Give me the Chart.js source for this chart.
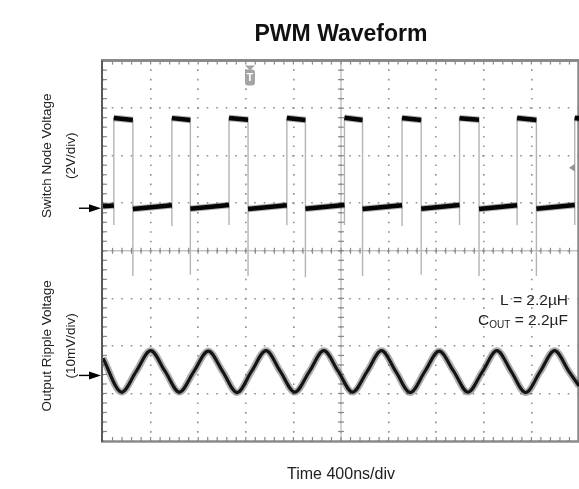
<!DOCTYPE html>
<html>
<head>
<meta charset="utf-8">
<script src="https://cdn.jsdelivr.net/npm/chart.js@4.4.1/dist/chart.umd.min.js"></script>
<style>
html,body{margin:0;padding:0;background:#ffffff;}
#wrap{width:579px;height:489px;}
canvas{display:block;}
</style>
</head>
<body>
<div id="wrap"><canvas id="chart" width="579" height="489"></canvas></div>
<script>
// ---------- text ----------
const chartTitle = 'PWM Waveform';
const timeAxisLabel = 'Time 400ns/div';
const switchAxisLabel = ['Switch Node Voltage', '(2V/div)'];
const rippleAxisLabel = ['Output Ripple Voltage', '(10mV/div)'];
const inductorLabel = 'L = 2.2µH';
const capLabelParts = ['C', 'OUT', ' = 2.2µF'];

// ---------- scales (scope graticule) ----------
const nsPerDiv = 400;
const timeTicksNs = [0, 400, 800, 1200, 1600, 2000, 2400, 2800, 3200, 3600, 4000];
const voltsPerDiv = 2;        // switch node channel
const millivoltsPerDiv = 10;  // ripple channel
const switchGroundDivsAboveCenter = 0.895;   // arrow marker position
const rippleGroundDivsAboveBottom = 1.379;   // arrow marker position
const triggerTimeNs = 1235;
const triggerLevelV = 1.7;

// ---------- switch node trace (ns, V) ----------
const swRiseNs     = [91, 579, 1059, 1545, 2029, 2513, 2996, 3480, 3964];
const swFallNs     = [251, 734, 1219, 1701, 2181, 2674, 3160, 3642, 4125];
const swHighStartV = [3.80, 3.79, 3.80, 3.80, 3.81, 3.80, 3.79, 3.80, 3.80];
const swHighEndV   = [3.71, 3.71, 3.72, 3.71, 3.71, 3.71, 3.72, 3.71, 3.71];
const swLowStartV  = [-0.03, -0.02, -0.03, -0.02, -0.03, -0.02, -0.03, -0.02];
const swLowEndV    = [0.12, 0.13, 0.14, 0.13, 0.14, 0.13, 0.14, 0.13, 0.14];
const swRiseDipV   = [-0.70, -0.75, -0.70, -0.72, -0.70, -0.75, -0.70, -0.72, -0.70];
const swFallSpikeV = [-2.85, -2.80, -2.85, -2.90, -2.85, -2.80, -2.85, -2.85];
const swStartV = 0.08;

// ---------- output ripple trace (ns, mV) ----------
const rippleNs = [0, 157, 278, 400, 521, 642, 763, 885, 1006, 1127, 1249, 1370, 1491, 1612, 1734, 1855,
                  1976, 2097, 2219, 2340, 2461, 2582, 2704, 2825, 2946, 3067, 3189, 3310, 3431, 3552,
                  3674, 3795, 3916, 4000];
const rippleMv = [3.6, -3.5, 0.8, 5.2, 0.9, -3.5, 0.8, 5.1, 0.8, -3.6, 0.9, 5.2, 0.8, -3.5, 0.8, 5.2,
                  0.9, -3.5, 0.8, 5.2, 0.8, -3.6, 0.8, 5.1, 0.9, -3.5, 0.8, 5.2, 0.8, -3.6,
                  0.8, 5.2, 0.8, -2.2];

// ---------- build datasets ----------
const swTrace = [{x: 0, y: swStartV}];
const swPlateau = [{x: 0, y: swStartV}];
for (let i = 0; i < swRiseNs.length; i++) {
  const r = swRiseNs[i], f = swFallNs[i];
  swTrace.push({x: r, y: swLowEndV[i]}, {x: r, y: swRiseDipV[i]}, {x: r, y: swHighStartV[i]}, {x: f, y: swHighEndV[i]});
  swPlateau.push({x: r, y: swLowEndV[i]}, {x: r, y: null}, {x: r, y: swHighStartV[i]}, {x: f, y: swHighEndV[i]}, {x: f, y: null});
  if (i < swFallSpikeV.length) {
    swTrace.push({x: f, y: swFallSpikeV[i]}, {x: f, y: swLowStartV[i]});
    swPlateau.push({x: f, y: swLowStartV[i]});
  }
}
const ripple = rippleNs.map((t, i) => ({x: t, y: rippleMv[i]}));

const swMin = -switchGroundDivsAboveCenter * voltsPerDiv;
const swMax = swMin + 4 * voltsPerDiv;
const ripMin = -rippleGroundDivsAboveBottom * millivoltsPerDiv;
const ripMax = ripMin + 4 * millivoltsPerDiv;

const F = '"Liberation Sans", Arial, Helvetica, sans-serif';

function divTicks(min, step) {
  return s => { s.ticks = [0, 1, 2, 3, 4].map(k => ({value: min + k * step})); };
}

const gridOpts = {color: '#8e8e8e', lineWidth: 1.6, drawTicks: false};

function yAxis(min, max, step, label, weight) {
  return {
    type: 'linear', position: 'left', stack: 'v', stackWeight: 1, weight: weight,
    min: min, max: max,
    afterBuildTicks: divTicks(min, step),
    ticks: {display: false},
    grid: gridOpts,
    border: {display: false, dash: [1.6, 7.9], dashOffset: 0.8},
    title: {display: true, text: label, color: '#222',
            font: {family: F, size: 13.5, lineHeight: 24 / 13.5},
            padding: {top: 35, bottom: 0}},
    afterFit: s => { s.width = 103; }
  };
}

// ---------- plugins ----------
function seg(ctx, x1, y1, x2, y2) { ctx.beginPath(); ctx.moveTo(x1, y1); ctx.lineTo(x2, y2); ctx.stroke(); }

const graticule = {
  id: 'graticule',
  beforeDatasetsDraw(chart) {
    const {ctx, chartArea: a, scales} = chart;
    const divW = (a.right - a.left) / 10;
    const divH = (a.bottom - a.top) / 8;
    const cx = scales.x.getPixelForValue(timeTicksNs[5]);
    const cy = scales.ySw.bottom;
    ctx.save();
    ctx.strokeStyle = '#a8a8a8'; ctx.lineWidth = 1;
    seg(ctx, a.left, cy, a.right, cy);
    seg(ctx, cx, a.top, cx, a.bottom);
    ctx.strokeStyle = '#8a8a8a'; ctx.lineWidth = 1.2;
    for (let k = 1; k < 50; k++) {
      const x = a.left + k * divW / 5;
      seg(ctx, x, cy - 3, x, cy + 3);
      seg(ctx, x, a.top, x, a.top + 4);
      seg(ctx, x, a.bottom - 4, x, a.bottom);
    }
    for (let k = 1; k < 40; k++) {
      const y = a.top + k * divH / 5;
      seg(ctx, cx - 3, y, cx + 3, y);
      seg(ctx, a.left, y, a.left + 4, y);
    }
    // frame
    ctx.strokeStyle = '#8a8a8a'; ctx.lineWidth = 3;
    seg(ctx, a.left - 2, a.top, a.right, a.top);
    ctx.lineWidth = 2.5;
    seg(ctx, a.left - 2, a.bottom + 0.5, a.right, a.bottom + 0.5);
    seg(ctx, a.right - 0.5, a.top, a.right - 0.5, a.bottom);
    ctx.strokeStyle = '#5a5a5a'; ctx.lineWidth = 2;
    seg(ctx, a.left - 1, a.top, a.left - 1, a.bottom + 1);
    ctx.restore();
  },
  afterDraw(chart) {
    const {ctx, chartArea: a, scales} = chart;
    ctx.save();
    // ground reference arrows
    [scales.ySw.getPixelForValue(0), scales.yRip.getPixelForValue(0)].forEach(y => {
      ctx.strokeStyle = '#000'; ctx.fillStyle = '#000'; ctx.lineWidth = 1.4;
      seg(ctx, a.left - 24, y, a.left - 10, y);
      ctx.beginPath(); ctx.moveTo(a.left - 14, y - 4); ctx.lineTo(a.left - 2, y); ctx.lineTo(a.left - 14, y + 4); ctx.closePath(); ctx.fill();
    });
    // trigger time marker
    const tx = scales.x.getPixelForValue(triggerTimeNs);
    ctx.fillStyle = '#a4a4a4';
    ctx.beginPath(); ctx.moveTo(tx - 5, a.top + 5); ctx.lineTo(tx + 5, a.top + 5); ctx.lineTo(tx, a.top + 10); ctx.closePath(); ctx.fill();
    ctx.beginPath(); ctx.roundRect(tx - 5, a.top + 9, 10, 16, 3); ctx.fill();
    ctx.fillStyle = '#fff'; ctx.font = 'bold 11px ' + F; ctx.textAlign = 'center'; ctx.textBaseline = 'middle';
    ctx.fillText('T', tx, a.top + 17.5);
    // trigger level marker
    const ty = scales.ySw.getPixelForValue(triggerLevelV);
    ctx.fillStyle = '#959595';
    ctx.beginPath(); ctx.moveTo(a.right - 10, ty); ctx.lineTo(a.right - 4, ty - 4); ctx.lineTo(a.right - 4, ty + 4); ctx.closePath(); ctx.fill();
    // component labels
    ctx.fillStyle = '#222'; ctx.textBaseline = 'alphabetic';
    const xr = a.right - 11;
    ctx.font = '15.5px ' + F; ctx.textAlign = 'right';
    ctx.fillText(inductorLabel, xr, a.top + 244);
    const w3 = ctx.measureText(capLabelParts[2]).width;
    ctx.fillText(capLabelParts[2], xr, a.top + 264);
    ctx.font = '10px ' + F;
    const w2 = ctx.measureText(capLabelParts[1]).width;
    ctx.fillText(capLabelParts[1], xr - w3, a.top + 267);
    ctx.font = '15.5px ' + F;
    ctx.fillText(capLabelParts[0], xr - w3 - w2, a.top + 264);
    ctx.restore();
  }
};

const swClip = {left: 0, top: 0, right: 0, bottom: 190};

new Chart(document.getElementById('chart'), {
  type: 'line',
  data: {
    datasets: [
      {label: 'Switch node plateaus', data: swPlateau, yAxisID: 'ySw', borderColor: '#050505', borderWidth: 4.5,
       pointRadius: 0, tension: 0, spanGaps: false, borderCapStyle: 'butt', clip: swClip, order: 0},
      {label: 'Switch node noise', data: swPlateau, yAxisID: 'ySw', borderColor: 'rgba(30,30,30,0.35)', borderWidth: 6.5,
       pointRadius: 0, tension: 0, spanGaps: false, borderCapStyle: 'butt', clip: swClip, order: 1},
      {label: 'Switch node edges', data: swTrace, yAxisID: 'ySw', borderColor: '#b4b4b4', borderWidth: 1.4,
       pointRadius: 0, tension: 0, clip: swClip, order: 2},
      {label: 'Output ripple', data: ripple, yAxisID: 'yRip', borderColor: '#141414', borderWidth: 3.2,
       pointRadius: 0, cubicInterpolationMode: 'monotone', order: 3},
      {label: 'Output ripple noise', data: ripple, yAxisID: 'yRip', borderColor: 'rgba(55,55,55,0.4)', borderWidth: 7,
       pointRadius: 0, cubicInterpolationMode: 'monotone', order: 4}
    ]
  },
  options: {
    responsive: false, animation: false, devicePixelRatio: 1,
    layout: {padding: {left: 0, right: 0, top: 0, bottom: 0}},
    plugins: {
      legend: {display: false},
      tooltip: {enabled: false},
      title: {display: true, text: chartTitle, fullSize: false, color: '#111',
              font: {family: F, size: 23, weight: 'bold', lineHeight: 1.2},
              padding: {top: 20.5, bottom: 12.5}}
    },
    scales: {
      x: {
        type: 'linear', min: timeTicksNs[0], max: timeTicksNs[timeTicksNs.length - 1],
        afterBuildTicks: s => { s.ticks = timeTicksNs.map(v => ({value: v})); },
        ticks: {display: false},
        grid: gridOpts,
        border: {display: false, dash: [1.6, 7.92], dashOffset: 0.8},
        title: {display: true, text: timeAxisLabel, color: '#222',
                font: {family: F, size: 16, lineHeight: 1.2}, padding: {top: 0, bottom: 5}},
        afterFit: s => { s.height = 48; }
      },
      yRip: yAxis(ripMin, ripMax, millivoltsPerDiv, rippleAxisLabel, 1),
      ySw: yAxis(swMin, swMax, voltsPerDiv, switchAxisLabel, 2)
    }
  },
  plugins: [graticule]
});
</script>
</body>
</html>
